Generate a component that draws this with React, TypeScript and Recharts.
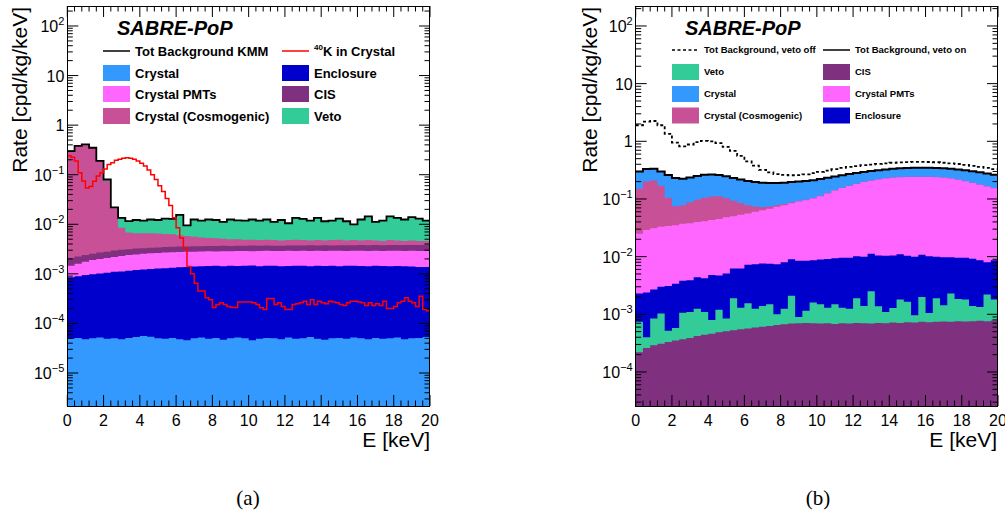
import React from 'react';
import { ComposedChart, Area, Line, XAxis, YAxis } from 'recharts';

const FONT = '"Liberation Sans", Arial, Helvetica, sans-serif';
const SERIF = '"Liberation Serif", "Times New Roman", serif';
const E_MAX = 20;
const BIN = 0.4; // keV per bin for the stacked bands
const K40_BIN = 0.2;

// ---- panel (a): upper edge of each stacked band (cpd/kg/keV)
const totalA = [
  0.30, 0.38, 0.41, 0.35, 0.19, 0.08, 0.022, 0.0135, 0.0116, 0.0122,
  0.0118, 0.0125, 0.0122, 0.013, 0.0128, 0.0155, 0.0095, 0.0125, 0.0118, 0.0125,
  0.0122, 0.0112, 0.0125, 0.012, 0.0118, 0.0125, 0.0119, 0.0125, 0.0112, 0.0122,
  0.0105, 0.0135, 0.0128, 0.0119, 0.0135, 0.0115, 0.0119, 0.013, 0.0115, 0.01,
  0.0125, 0.0145, 0.0112, 0.0119, 0.0145, 0.0135, 0.0125, 0.014, 0.013, 0.0119,
];
const cosmoEdgeA = [
  0.30, 0.38, 0.41, 0.35, 0.19, 0.075, 0.021, 0.0085, 0.0068, 0.0066,
  0.0066, 0.0066, 0.0065, 0.0064, 0.0063, 0.006, 0.0058, 0.0056, 0.0054, 0.0053,
  0.0052, 0.0051, 0.005, 0.005, 0.0049, 0.0049, 0.0048, 0.0049, 0.0048, 0.0047,
  0.0048, 0.0049, 0.0048, 0.0047, 0.0048, 0.0047, 0.0048, 0.0049, 0.0047, 0.0048,
  0.0047, 0.0048, 0.0047, 0.0046, 0.0048, 0.0047, 0.0046, 0.0047, 0.0046, 0.0046,
];
const cisEdgeA = [
  2.1e-3, 2.25e-3, 2.4e-3, 2.55e-3, 2.7e-3, 2.8e-3, 2.95e-3, 3.05e-3, 3.15e-3, 3.25e-3,
  3.3e-3, 3.38e-3, 3.42e-3, 3.48e-3, 3.52e-3, 3.55e-3, 3.58e-3, 3.6e-3, 3.62e-3, 3.65e-3,
  3.63e-3, 3.67e-3, 3.66e-3, 3.7e-3, 3.68e-3, 3.72e-3, 3.7e-3, 3.74e-3, 3.71e-3, 3.7e-3,
  3.75e-3, 3.73e-3, 3.72e-3, 3.76e-3, 3.74e-3, 3.78e-3, 3.75e-3, 3.77e-3, 3.79e-3, 3.76e-3,
  3.8e-3, 3.78e-3, 3.82e-3, 3.79e-3, 3.8e-3, 3.83e-3, 3.8e-3, 3.82e-3, 3.84e-3, 3.85e-3,
];
const pmtEdgeA = [
  1.45e-3, 1.6e-3, 1.75e-3, 1.9e-3, 2.0e-3, 2.1e-3, 2.2e-3, 2.3e-3, 2.4e-3, 2.45e-3,
  2.55e-3, 2.6e-3, 2.65e-3, 2.7e-3, 2.72e-3, 2.75e-3, 2.78e-3, 2.8e-3, 2.82e-3, 2.85e-3,
  2.84e-3, 2.87e-3, 2.86e-3, 2.88e-3, 2.9e-3, 2.87e-3, 2.9e-3, 2.92e-3, 2.88e-3, 2.9e-3,
  2.93e-3, 2.9e-3, 2.91e-3, 2.88e-3, 2.92e-3, 2.9e-3, 2.93e-3, 2.91e-3, 2.89e-3, 2.92e-3,
  2.94e-3, 2.9e-3, 2.92e-3, 2.9e-3, 2.93e-3, 2.91e-3, 2.9e-3, 2.92e-3, 2.89e-3, 2.88e-3,
];
const enclEdgeA = [
  8.5e-4, 9.0e-4, 9.5e-4, 9.8e-4, 1.02e-3, 1.05e-3, 1.1e-3, 1.12e-3, 1.15e-3, 1.2e-3,
  1.23e-3, 1.25e-3, 1.28e-3, 1.3e-3, 1.33e-3, 1.36e-3, 1.38e-3, 1.4e-3, 1.42e-3, 1.44e-3,
  1.45e-3, 1.43e-3, 1.46e-3, 1.44e-3, 1.45e-3, 1.47e-3, 1.43e-3, 1.45e-3, 1.46e-3, 1.42e-3,
  1.44e-3, 1.46e-3, 1.45e-3, 1.43e-3, 1.46e-3, 1.44e-3, 1.45e-3, 1.42e-3, 1.45e-3, 1.46e-3,
  1.44e-3, 1.43e-3, 1.45e-3, 1.44e-3, 1.42e-3, 1.44e-3, 1.43e-3, 1.4e-3, 1.38e-3, 1.37e-3,
];
const crystalEdgeA = [
  4.9e-5, 5.1e-5, 4.8e-5, 5.0e-5, 5.2e-5, 4.9e-5, 5.0e-5, 4.8e-5, 5.1e-5, 5.3e-5,
  5.6e-5, 5.4e-5, 5.0e-5, 4.9e-5, 5.1e-5, 4.8e-5, 4.6e-5, 5.0e-5, 5.2e-5, 4.9e-5,
  5.1e-5, 4.7e-5, 5.0e-5, 5.2e-5, 5.0e-5, 4.6e-5, 4.9e-5, 5.1e-5, 5.0e-5, 4.8e-5,
  5.2e-5, 4.9e-5, 5.0e-5, 5.3e-5, 4.9e-5, 4.7e-5, 5.0e-5, 5.1e-5, 4.9e-5, 5.2e-5,
  5.0e-5, 4.8e-5, 5.1e-5, 4.9e-5, 5.0e-5, 5.2e-5, 4.8e-5, 5.0e-5, 5.1e-5, 5.3e-5,
];
// 40K in the crystal, 0.2 keV bins
const k40A = [
  0.24, 0.226, 0.19, 0.11, 0.075, 0.054, 0.058, 0.074, 0.094, 0.11,
  0.13, 0.16, 0.175, 0.195, 0.205, 0.215, 0.22, 0.215, 0.205, 0.19,
  0.17, 0.15, 0.125, 0.1, 0.08, 0.06, 0.046, 0.033, 0.024, 0.0135,
  0.0085, 0.0053, 0.0033, 0.0014, 0.001, 6.5e-4, 4.5e-4, 4.5e-4, 3.3e-4, 3.0e-4,
  2.1e-4, 2.4e-4, 2.6e-4, 2.4e-4, 2.2e-4, 2.1e-4, 2.1e-4, 2.7e-4, 2.7e-4, 2.7e-4,
  2.7e-4, 2.6e-4, 2.4e-4, 2.06e-4, 1.9e-4, 3.2e-4, 3.2e-4, 2.4e-4, 2.6e-4, 2.2e-4,
  1.9e-4, 1.9e-4, 2.4e-4, 2.5e-4, 2.6e-4, 2.8e-4, 2.4e-4, 3.0e-4, 2.4e-4, 2.8e-4,
  2.6e-4, 2.5e-4, 2.8e-4, 2.7e-4, 2.6e-4, 2.4e-4, 2.3e-4, 2.6e-4, 2.8e-4, 2.8e-4,
  2.7e-4, 2.6e-4, 2.3e-4, 2.6e-4, 2.3e-4, 2.5e-4, 2.3e-4, 2.8e-4, 2.0e-4, 2.0e-4,
  2.2e-4, 2.6e-4, 2.8e-4, 3.3e-4, 2.8e-4, 2.6e-4, 2.2e-4, 3.55e-4, 1.9e-4, 1.8e-4,
];

// ---- panel (b)
const vetoOffB = [
  1.9, 2.2, 2.25, 1.9, 1.35, 0.95, 0.82, 0.88, 0.97, 1.02,
  1.0, 0.93, 0.8, 0.68, 0.56, 0.45, 0.38, 0.32, 0.29, 0.27,
  0.262, 0.258, 0.26, 0.268, 0.28, 0.295, 0.31, 0.328, 0.345, 0.36,
  0.372, 0.385, 0.395, 0.405, 0.415, 0.425, 0.432, 0.437, 0.44, 0.44,
  0.438, 0.433, 0.425, 0.415, 0.404, 0.39, 0.375, 0.36, 0.345, 0.33,
];
const totalB = [
  0.30, 0.33, 0.335, 0.3, 0.26, 0.232, 0.225, 0.235, 0.25, 0.262,
  0.266, 0.26, 0.248, 0.232, 0.218, 0.205, 0.197, 0.192, 0.19, 0.19,
  0.192, 0.196, 0.2, 0.205, 0.212, 0.222, 0.234, 0.246, 0.258, 0.27,
  0.282, 0.294, 0.305, 0.315, 0.325, 0.334, 0.34, 0.345, 0.347, 0.348,
  0.347, 0.344, 0.34, 0.333, 0.324, 0.314, 0.302, 0.29, 0.277, 0.264,
];
const cosmoEdgeB = [
  0.15, 0.2, 0.21, 0.17, 0.105, 0.075, 0.078, 0.088, 0.097, 0.105,
  0.11, 0.111, 0.103, 0.093, 0.085, 0.078, 0.074, 0.072, 0.074, 0.078,
  0.082, 0.087, 0.092, 0.097, 0.104, 0.114, 0.127, 0.142, 0.157, 0.17,
  0.184, 0.198, 0.21, 0.22, 0.228, 0.235, 0.239, 0.242, 0.243, 0.243,
  0.242, 0.24, 0.236, 0.228, 0.217, 0.205, 0.192, 0.179, 0.167, 0.155,
];
const pmtEdgeB = [
  0.025, 0.029, 0.031, 0.033, 0.034, 0.035, 0.037, 0.038, 0.04, 0.041,
  0.043, 0.045, 0.048, 0.05, 0.053, 0.056, 0.06, 0.064, 0.068, 0.073,
  0.078, 0.084, 0.09, 0.095, 0.102, 0.112, 0.125, 0.14, 0.155, 0.168,
  0.182, 0.196, 0.208, 0.218, 0.226, 0.233, 0.237, 0.24, 0.241, 0.241,
  0.24, 0.238, 0.234, 0.226, 0.215, 0.203, 0.19, 0.177, 0.165, 0.153,
];
const enclEdgeB = [
  2.3e-3, 2.4e-3, 2.7e-3, 3.0e-3, 3.1e-3, 3.4e-3, 3.8e-3, 3.9e-3, 4.4e-3, 4.2e-3,
  4.8e-3, 4.7e-3, 5.1e-3, 6.2e-3, 6.2e-3, 7.2e-3, 7.4e-3, 7.6e-3, 7.5e-3, 7.4e-3,
  8.0e-3, 9.0e-3, 8.5e-3, 8.5e-3, 8.7e-3, 8.9e-3, 9.1e-3, 9.4e-3, 9.6e-3, 9.6e-3,
  1.02e-2, 1.0e-2, 1.12e-2, 1.05e-2, 1.04e-2, 1.05e-2, 1.1e-2, 1.04e-2, 1.0e-2, 1.08e-2,
  1.02e-2, 1.0e-2, 9.8e-3, 9.8e-3, 9.6e-3, 9.6e-3, 9.2e-3, 8.7e-3, 8.0e-3, 8.7e-3,
];
const vetoEdgeB = [
  7.4e-4, 4.0e-4, 8.5e-4, 1.03e-3, 5.2e-4, 5.8e-4, 1.06e-3, 1.1e-3, 1.25e-3, 1.1e-3,
  8.0e-4, 1.2e-3, 8.5e-4, 1.9e-3, 1.3e-3, 1.55e-3, 1.25e-3, 1.4e-3, 1.5e-3, 1.0e-3,
  1.25e-3, 2.1e-3, 9.0e-4, 1.15e-3, 1.6e-3, 1.5e-3, 1.3e-3, 1.5e-3, 1.3e-3, 1.25e-3,
  1.9e-3, 1.4e-3, 2.5e-3, 1.38e-3, 1.1e-3, 1.28e-3, 1.8e-3, 1.65e-3, 9.6e-4, 2.0e-3,
  1.05e-3, 1.9e-3, 1.43e-3, 2.3e-3, 1.85e-3, 1.8e-3, 1.4e-3, 1.34e-3, 2.2e-3, 1.8e-3,
];
const cisEdgeB = [
  2.2e-4, 2.6e-4, 2.9e-4, 3.1e-4, 3.3e-4, 3.5e-4, 3.7e-4, 3.9e-4, 4.2e-4, 4.4e-4,
  4.6e-4, 4.9e-4, 5.1e-4, 5.3e-4, 5.5e-4, 5.7e-4, 5.9e-4, 6.1e-4, 6.3e-4, 6.5e-4,
  6.7e-4, 6.9e-4, 7.0e-4, 7.1e-4, 7.0e-4, 6.9e-4, 7.0e-4, 6.8e-4, 7.0e-4, 6.9e-4,
  7.1e-4, 7.0e-4, 6.9e-4, 7.1e-4, 7.0e-4, 7.2e-4, 7.1e-4, 7.3e-4, 7.2e-4, 7.4e-4,
  7.3e-4, 7.4e-4, 7.5e-4, 7.4e-4, 7.6e-4, 7.5e-4, 7.6e-4, 7.7e-4, 7.6e-4, 7.8e-4,
];

const C = {
  crystal: '#3399ff',
  encl: '#0000cc',
  pmt: '#ff66ff',
  cis: '#7f307f',
  cosmo: '#c85096',
  veto: '#33cc99',
};

// layout (px)
const PLOT_TOP = 6;
const PLOT_BOTTOM = 406;
const AXIS_W = 60;
const CHART_H = 480;

const steps = (vals: number[], width: number) => {
  const pts = vals.map((v, i) => ({ e: Math.round(i * width * 100) / 100, v }));
  pts.push({ e: E_MAX, v: vals[vals.length - 1] });
  return pts;
};

const logTicks = (lo: number, hi: number) => {
  const t: number[] = [];
  for (let p = Math.floor(Math.log10(lo)); p <= Math.ceil(Math.log10(hi)); p++) {
    for (let m = 1; m < 10; m++) {
      const v = m * Math.pow(10, p);
      if (v >= lo && v <= hi) t.push(v);
    }
  }
  return t;
};

const eTicks = Array.from({ length: 51 }, (_, i) => Math.round(i * 4) / 10);

const ETick = (props: any) => {
  const { x, payload } = props;
  const v = payload.value;
  const major = Math.abs(v / 2 - Math.round(v / 2)) < 1e-6;
  const len = major ? 11 : 5.5;
  return (
    <g>
      <line x1={x} x2={x} y1={PLOT_BOTTOM} y2={PLOT_BOTTOM - len} stroke="#000" />
      <line x1={x} x2={x} y1={PLOT_TOP} y2={PLOT_TOP + len} stroke="#000" />
      {major && (
        <text x={x} y={PLOT_BOTTOM + 20} textAnchor="middle" fontSize={16} fontFamily={FONT} fill="#000">
          {Math.round(v)}
        </text>
      )}
    </g>
  );
};

const RateTick = (props: any) => {
  const { y, payload, left, right } = props;
  const lg = Math.log10(payload.value);
  const p = Math.round(lg);
  const major = Math.abs(lg - p) < 1e-6;
  const len = major ? 11 : 5.5;
  return (
    <g>
      <line x1={left} x2={left + len} y1={y} y2={y} stroke="#000" />
      <line x1={right} x2={right - len} y1={y} y2={y} stroke="#000" />
      {major && (
        <text x={left - 3} y={y + 6} textAnchor="end" fontSize={16} fontFamily={FONT} fill="#000">
          {p === 0 ? '1' : '10'}
          {p !== 0 && p !== 1 && (
            <tspan dy={-7} fontSize={11}>
              {p < 0 ? '\u2212' + -p : String(p)}
            </tspan>
          )}
        </text>
      )}
    </g>
  );
};

type Band = { key: string; color: string; values: number[] };
type Trace = { key: string; color: string; values: number[]; bin: number; width: number; dash?: string };

const Panel = ({ left, width, mLeft, mRight, yMin, yMax, bands, traces }: {
  left: number; width: number; mLeft: number; mRight: number; yMin: number; yMax: number;
  bands: Band[]; traces: Trace[];
}) => {
  const plotL = mLeft + AXIS_W;
  const plotR = width - mRight;
  const margin = { top: PLOT_TOP, right: mRight, bottom: 44, left: mLeft };
  const yTicks = logTicks(yMin, yMax);
  return (
    <div style={{ position: 'absolute', left, top: 0, width, height: CHART_H }}>
      <ComposedChart width={width} height={CHART_H} margin={margin}>
        {bands.map((b) => (
          <Area
            key={b.key}
            data={steps(b.values, BIN)}
            dataKey="v"
            type="stepAfter"
            fill={b.color}
            fillOpacity={1}
            stroke="none"
            baseValue={yMin}
            isAnimationActive={false}
          />
        ))}
        {traces.map((t) => (
          <Line
            key={t.key}
            data={steps(t.values, t.bin)}
            dataKey="v"
            type="stepAfter"
            stroke={t.color}
            strokeWidth={t.width}
            strokeDasharray={t.dash}
            dot={false}
            isAnimationActive={false}
          />
        ))}
        <XAxis type="number" dataKey="e" domain={[0, E_MAX]} allowDataOverflow height={30} tick={false} axisLine={false} tickLine={false} />
        <YAxis type="number" scale="log" domain={[yMin, yMax]} allowDataOverflow width={AXIS_W} tick={false} axisLine={false} tickLine={false} />
      </ComposedChart>
      {/* axes-only chart on top so the tick marks sit above the filled bands */}
      <div style={{ position: 'absolute', left: 0, top: 0 }}>
        <ComposedChart width={width} height={CHART_H} margin={margin} data={[{ e: 0, v: yMin }, { e: E_MAX, v: yMax }]}>
          <Line dataKey="v" stroke="none" dot={false} isAnimationActive={false} />
          <XAxis
            type="number"
            dataKey="e"
            domain={[0, E_MAX]}
            allowDataOverflow
            ticks={eTicks}
            interval={0}
            height={30}
            tickSize={0}
            axisLine={false}
            tickLine={false}
            tick={(p: any) => <ETick {...p} />}
          />
          <YAxis
            type="number"
            scale="log"
            domain={[yMin, yMax]}
            allowDataOverflow
            ticks={yTicks}
            interval={0}
            width={AXIS_W}
            tickSize={0}
            axisLine={false}
            tickLine={false}
            tick={(p: any) => <RateTick {...p} left={plotL} right={plotR} />}
          />
        </ComposedChart>
      </div>
      <div
        style={{
          position: 'absolute',
          left: plotL - 0.5,
          top: PLOT_TOP - 0.5,
          width: plotR - plotL + 1,
          height: PLOT_BOTTOM - PLOT_TOP + 1,
          border: '1px solid #000',
          boxSizing: 'border-box',
          pointerEvents: 'none',
        }}
      />
    </div>
  );
};

type Entry = { label: string; color: string; kind: 'box' | 'line'; dash?: string; sup?: string };

const legendA: Entry[][] = [
  [{ label: 'Tot Background KMM', color: '#000', kind: 'line' }, { label: 'K in Crystal', sup: '40', color: '#ff0000', kind: 'line' }],
  [{ label: 'Crystal', color: C.crystal, kind: 'box' }, { label: 'Enclosure', color: C.encl, kind: 'box' }],
  [{ label: 'Crystal PMTs', color: C.pmt, kind: 'box' }, { label: 'CIS', color: C.cis, kind: 'box' }],
  [{ label: 'Crystal (Cosmogenic)', color: C.cosmo, kind: 'box' }, { label: 'Veto', color: C.veto, kind: 'box' }],
];
const legendB: Entry[][] = [
  [{ label: 'Tot Background, veto off', color: '#000', kind: 'line', dash: '3 2.5' }, { label: 'Tot Background, veto on', color: '#000', kind: 'line' }],
  [{ label: 'Veto', color: C.veto, kind: 'box' }, { label: 'CIS', color: C.cis, kind: 'box' }],
  [{ label: 'Crystal', color: C.crystal, kind: 'box' }, { label: 'Crystal PMTs', color: C.pmt, kind: 'box' }],
  [{ label: 'Crystal (Cosmogenic)', color: C.cosmo, kind: 'box' }, { label: 'Enclosure', color: C.encl, kind: 'box' }],
];

const LegendBlock = ({ rows, cols, rowY, fontSize, lineW }: {
  rows: Entry[][]; cols: number[]; rowY: number[]; fontSize: number; lineW: number;
}) => (
  <g>
    {rows.map((row, r) =>
      row.map((e, c) => {
        const x = cols[c];
        const y = rowY[r];
        return (
          <g key={`${r}-${c}`}>
            {e.kind === 'box' ? (
              <rect x={x} y={y - 8} width={27} height={16} fill={e.color} />
            ) : (
              <line x1={x} x2={x + 27} y1={y} y2={y} stroke={e.color} strokeWidth={lineW} strokeDasharray={e.dash} />
            )}
            <text x={x + 32} y={y + fontSize * 0.36} fontSize={fontSize} fontWeight="bold" fill="#000">
              {e.sup && (
                <tspan fontSize={fontSize * 0.62} dy={-fontSize * 0.4}>
                  {e.sup}
                </tspan>
              )}
              {e.sup ? <tspan dy={fontSize * 0.4}>{e.label}</tspan> : e.label}
            </text>
          </g>
        );
      })
    )}
  </g>
);

const Overlay = () => (
  <svg width={1005} height={516} style={{ position: 'absolute', left: 0, top: 0, pointerEvents: 'none' }} fontFamily={FONT}>
    {/* panel a */}
    <text x={117} y={35} fontSize={20} fontWeight="bold" fontStyle="italic">SABRE-PoP</text>
    <LegendBlock rows={legendA} cols={[103, 282]} rowY={[51, 73, 94, 116]} fontSize={13} lineW={1.5} />
    <text transform="translate(27,7) rotate(-90)" textAnchor="end" fontSize={21}>Rate [cpd/kg/keV]</text>
    <text x={430} y={447} textAnchor="end" fontSize={21}>E [keV]</text>
    <text x={248} y={505} textAnchor="middle" fontSize={21} fontFamily={SERIF}>(a)</text>
    {/* panel b */}
    <text x={685} y={35} fontSize={20} fontWeight="bold" fontStyle="italic">SABRE-PoP</text>
    <LegendBlock rows={legendB} cols={[672, 823]} rowY={[50, 72, 94, 115.5]} fontSize={9.5} lineW={1.5} />
    <text transform="translate(597,7) rotate(-90)" textAnchor="end" fontSize={21}>Rate [cpd/kg/keV]</text>
    <text x={997} y={447} textAnchor="end" fontSize={21}>E [keV]</text>
    <text x={818} y={505} textAnchor="middle" fontSize={21} fontFamily={SERIF}>(b)</text>
  </svg>
);

export default function App() {
  return (
    <div style={{ position: 'absolute', left: 0, top: 0, width: 1005, height: 516, overflow: 'hidden', background: '#fff', fontFamily: FONT }}>
      <Panel
        left={0}
        width={440}
        mLeft={7.3}
        mRight={10}
        yMin={2.16e-6}
        yMax={253}
        bands={[
          { key: 'veto', color: C.veto, values: totalA },
          { key: 'cosmo', color: C.cosmo, values: cosmoEdgeA },
          { key: 'cis', color: C.cis, values: cisEdgeA },
          { key: 'pmt', color: C.pmt, values: pmtEdgeA },
          { key: 'encl', color: C.encl, values: enclEdgeA },
          { key: 'crystal', color: C.crystal, values: crystalEdgeA },
        ]}
        traces={[
          { key: 'total', color: '#000', values: totalA, bin: BIN, width: 1.8 },
          { key: 'k40', color: '#ff0000', values: k40A, bin: K40_BIN, width: 1.5 },
        ]}
      />
      <Panel
        left={570}
        width={435}
        mLeft={5.7}
        mRight={7}
        yMin={2.57e-5}
        yMax={222}
        bands={[
          { key: 'crystal', color: C.crystal, values: totalB },
          { key: 'cosmo', color: C.cosmo, values: cosmoEdgeB },
          { key: 'pmt', color: C.pmt, values: pmtEdgeB },
          { key: 'encl', color: C.encl, values: enclEdgeB },
          { key: 'veto', color: C.veto, values: vetoEdgeB },
          { key: 'cis', color: C.cis, values: cisEdgeB },
        ]}
        traces={[
          { key: 'on', color: '#000', values: totalB, bin: BIN, width: 2 },
          { key: 'off', color: '#000', values: vetoOffB, bin: BIN, width: 1.8, dash: '3 2.5' },
        ]}
      />
      <Overlay />
    </div>
  );
}
